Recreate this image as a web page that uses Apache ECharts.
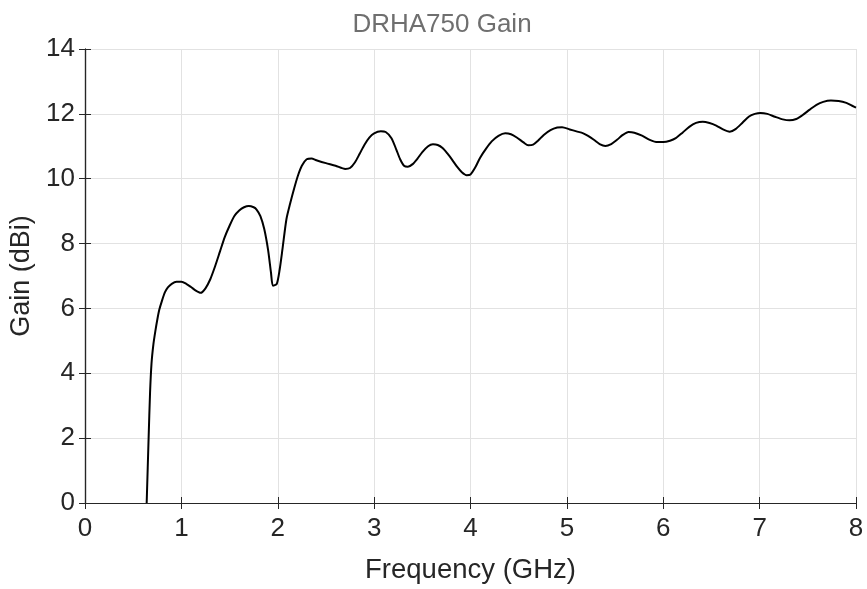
<!DOCTYPE html>
<html><head><meta charset="utf-8">
<script src="https://cdn.jsdelivr.net/npm/echarts@6/dist/echarts.min.js"></script>
<style>html,body{margin:0;padding:0;background:#fff}#c{width:867px;height:589px}</style>
</head><body><div id="c"></div>
<script>
const titleText = 'DRHA750 Gain';
const xName = 'Frequency (GHz)';
const yName = 'Gain (dBi)';
const xTicks = [0,1,2,3,4,5,6,7,8];
const yTicks = [0,2,4,6,8,10,12,14];
const freq = [0.64,0.66,0.675,0.69,0.71,0.73,0.75,0.77,0.80,0.83,0.86,0.90,0.95,1.00,1.05,1.10,1.15,1.20,1.25,1.30,1.35,1.40,1.45,1.50,1.55,1.60,1.65,1.70,1.75,1.78,1.82,1.86,1.90,1.93,1.95,1.99,2.02,2.05,2.09,2.13,2.17,2.21,2.25,2.30,2.35,2.40,2.50,2.60,2.70,2.75,2.80,2.85,2.90,2.95,3.00,3.07,3.12,3.18,3.23,3.27,3.31,3.35,3.40,3.45,3.50,3.56,3.61,3.66,3.71,3.76,3.81,3.86,3.91,3.96,4.00,4.05,4.10,4.16,4.22,4.29,4.36,4.42,4.48,4.55,4.60,4.65,4.70,4.76,4.83,4.90,4.95,5.03,5.10,5.17,5.22,5.28,5.34,5.40,5.46,5.52,5.58,5.64,5.70,5.78,5.86,5.94,6.00,6.07,6.13,6.20,6.27,6.34,6.41,6.48,6.55,6.62,6.69,6.75,6.82,6.89,6.95,7.01,7.08,7.16,7.24,7.31,7.38,7.44,7.52,7.59,7.66,7.74,7.82,7.90,7.96,8.00];
const gain = [0,2.0,3.4,4.3,4.9,5.3,5.65,5.95,6.25,6.5,6.65,6.76,6.82,6.82,6.76,6.66,6.55,6.48,6.62,6.9,7.3,7.75,8.2,8.55,8.85,9.02,9.12,9.16,9.12,9.05,8.85,8.45,7.8,7.1,6.7,6.76,7.2,7.85,8.75,9.25,9.7,10.1,10.4,10.6,10.62,10.57,10.48,10.4,10.3,10.33,10.5,10.77,11.05,11.27,11.4,11.46,11.44,11.25,10.9,10.6,10.4,10.37,10.45,10.62,10.82,11.0,11.06,11.04,10.95,10.78,10.58,10.37,10.2,10.11,10.13,10.35,10.65,10.92,11.15,11.32,11.40,11.37,11.27,11.12,11.03,11.05,11.17,11.35,11.50,11.58,11.59,11.52,11.46,11.4,11.32,11.2,11.07,11.01,11.07,11.2,11.35,11.44,11.42,11.33,11.2,11.13,11.13,11.17,11.25,11.42,11.6,11.72,11.76,11.72,11.64,11.52,11.45,11.53,11.72,11.92,12.0,12.03,12.0,11.91,11.83,11.8,11.84,11.95,12.13,12.28,12.37,12.41,12.4,12.34,12.25,12.19];

const FONT = 'Liberation Sans, Arial, sans-serif';
const chart = echarts.init(document.getElementById('c'), null, {renderer:'canvas'});
const axisLine = {show:true, lineStyle:{color:'#262626', width:1.2}};
const tick = {show:true, inside:true, length:6, lineStyle:{color:'#262626', width:1}};
const split = {show:true, lineStyle:{color:'#e2e2e2', width:1}};
const xBase = {type:'value', min:xTicks[0], max:xTicks[xTicks.length-1], interval:1};
const yBase = {type:'value', min:yTicks[0], max:yTicks[yTicks.length-1], interval:2};
chart.setOption({
  animation:false,
  backgroundColor:'#fff',
  title:{text:titleText, left:437, textAlign:'center', top:7,
    textStyle:{fontFamily:FONT, fontSize:26, fontWeight:'normal', color:'#6f6f6f'}},
  grid:{left:85, right:11, top:49, bottom:80, containLabel:false},
  xAxis:[
    Object.assign({}, xBase, {position:'bottom', name:xName, nameLocation:'middle', nameGap:53,
      nameTextStyle:{fontFamily:FONT, fontSize:27.5, color:'#262626'},
      axisLine, axisTick:tick, splitLine:split,
      axisLabel:{fontFamily:FONT, fontSize:26, color:'#262626', margin:13}}),
    Object.assign({}, xBase, {position:'top', axisLine, axisTick:tick, splitLine:{show:false}, axisLabel:{show:false}})
  ],
  yAxis:[
    Object.assign({}, yBase, {position:'left', name:yName, nameLocation:'middle', nameGap:40,
      nameTextStyle:{fontFamily:FONT, fontSize:27, color:'#262626'},
      axisLine, axisTick:tick, splitLine:split,
      axisLabel:{fontFamily:FONT, fontSize:26, color:'#262626', margin:10}}),
    Object.assign({}, yBase, {position:'right', axisLine, axisTick:tick, splitLine:{show:false}, axisLabel:{show:false}})
  ],
  series:[{
    type:'line', xAxisIndex:0, yAxisIndex:0, showSymbol:false, symbol:'none',
    smooth:0.25, clip:true,
    lineStyle:{color:'#000', width:2},
    data: freq.map((f,i)=>[f, gain[i]])
  }]
});
</script></body></html>
